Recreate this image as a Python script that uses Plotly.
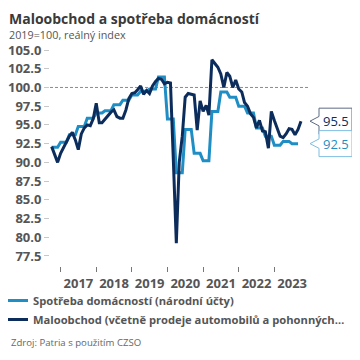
import pandas as pd
import plotly.graph_objects as go

# ---------------- data ----------------
# Household consumption (national accounts), quarterly, Q4 2016 .. Q3 2023
spotreba_start = "2016-10-01"
spotreba_q = [92.0,
              92.7, 93.7, 94.8, 95.9,
              96.6, 96.9, 97.7, 98.3,
              99.0, 99.5, 99.8, 101.4,
              95.8, 88.6, 94.4, 91.2,
              90.2, 96.8, 99.4, 98.7,
              97.5, 96.6, 94.6, 93.5,
              92.3, 92.8, 92.5]

# Retail incl. cars and fuels, monthly, Oct 2016 .. Oct 2023
retail_start = "2016-10-01"
retail_m = [92.1, 91.0, 90.0,
            91.2, 92.0, 92.6, 93.5, 94.0, 93.0, 91.7, 93.8, 94.6, 95.0, 94.9, 95.8,
            97.9, 95.3, 95.3, 95.8, 96.3, 96.7, 97.0, 96.1, 95.9, 95.9, 97.0, 98.5,
            99.2, 99.3, 99.7, 100.2, 99.1, 99.6, 99.2, 100.2, 100.8, 101.2, 101.1, 100.5,
            100.7, 100.6, 90.5, 79.2, 90.0, 93.5, 98.7, 99.2, 99.1, 99.0, 94.3, 98.2,
            96.8, 97.6, 96.3, 103.7, 103.2, 102.7, 101.8, 100.0, 102.0, 101.5, 100.0, 101.0,
            99.8, 99.4, 98.0, 97.5, 96.5, 96.0, 94.6, 95.6, 94.2, 94.1, 91.9, 96.8,
            95.6, 94.5, 93.5, 93.3, 93.8, 94.5, 94.4, 93.7, 94.4, 95.5]

name_spotreba = "Spotřeba domácností (národní účty)"
name_retail = "Maloobchod (včetně prodeje automobilů a pohonných…"
y_ticks = [77.5, 80.0, 82.5, 85.0, 87.5, 90.0, 92.5, 95.0, 97.5, 100.0, 102.5, 105.0]

# quarterly values shown on a monthly axis (each quarter's value held for its 3 months)
spotreba_vals = [v for v in spotreba_q for _ in range(3)]
spotreba_dates = pd.date_range(spotreba_start, periods=len(spotreba_vals), freq="MS")
retail_dates = pd.date_range(retail_start, periods=len(retail_m), freq="MS")

# ---------------- style ----------------
C_LIGHT = "#1f8ec5"
C_DARK = "#0c2d5c"
FONT = "Open Sans"
W, H = 352, 352
ML, MR, MT, MB = 42, 52, 34, 94
PW, PH = W - ML - MR, H - MT - MB


def px_x(p):
    return (p - ML) / PW


def px_y(p):
    return (H - MB - p) / PH


fig = go.Figure()
fig.add_trace(go.Scatter(x=spotreba_dates, y=spotreba_vals, mode="lines", name=name_spotreba,
                         line=dict(color=C_LIGHT, width=3)))
fig.add_trace(go.Scatter(x=retail_dates, y=retail_m, mode="lines", name=name_retail,
                         line=dict(color=C_DARK, width=3)))

# reference line at 100
fig.add_shape(type="line", xref="paper", x0=0, x1=1, yref="y", y0=100, y1=100,
              line=dict(color="#8a8a8a", width=1, dash="3px,2px"), layer="below")

# end-value callouts
for val, col, border in [(retail_m[-1], C_DARK, "#5d6b84"),
                         (spotreba_vals[-1], C_LIGHT, "#7fbde0")]:
    fig.add_shape(type="path", xref="paper", xsizemode="pixel", xanchor=1,
                  yref="y", ysizemode="pixel", yanchor=val,
                  path="M2,0 L11,4.7 L11,13 L44,13 L44,-13 L11,-13 L11,-4.7 Z",
                  fillcolor="white", line=dict(color=border, width=1), layer="above")
    fig.add_annotation(xref="paper", x=1, xshift=27.5, yref="y", y=val, text=f"{val:.1f}",
                       showarrow=False, xanchor="center", yanchor="middle",
                       font=dict(family=FONT, size=13, color=col))

# title, subtitle, source
fig.add_annotation(xref="paper", yref="paper", x=px_x(0), y=px_y(0), xanchor="left", yanchor="top",
                   text="<b>Maloobchod a spotřeba domácností</b>", showarrow=False, borderpad=0,
                   font=dict(family=FONT, size=14, color="#3a3a3a"))
fig.add_annotation(xref="paper", yref="paper", x=px_x(0), y=px_y(26.5), xanchor="left", yanchor="middle",
                   text="2019=100, reálný index", showarrow=False, borderpad=0,
                   font=dict(family=FONT, size=10.8, color="#555555"))
fig.add_annotation(xref="paper", yref="paper", x=px_x(1), y=px_y(334), xanchor="left", yanchor="middle",
                   text="Zdroj: Patria s použitím CZSO", showarrow=False,
                   font=dict(family=FONT, size=9.6, color="#666666"))

fig.update_xaxes(type="date", range=["2016-09-14", "2023-12-12"], tick0="2017-01-01", dtick="M12",
                 tickformat="%Y", ticklabelmode="period", ticks="outside", ticklen=5,
                 tickcolor="#777777", showgrid=False, zeroline=False, showline=False,
                 tickfont=dict(family=FONT, size=13, color="#555555", weight="bold"))
fig.update_yaxes(range=[76.16, 106.07], tickvals=y_ticks, tickformat=".1f", ticks="outside",
                 ticklen=5, tickcolor="#c8c8c8", showgrid=False, zeroline=False, showline=False,
                 tickfont=dict(family=FONT, size=13, color="#555555", weight="bold"))

fig.update_layout(width=W, height=H, margin=dict(l=ML, r=MR, t=MT, b=MB, autoexpand=False),
                  paper_bgcolor="white", plot_bgcolor="white", showlegend=True,
                  legend=dict(orientation="v", xref="paper", yref="paper",
                              x=px_x(-15), y=px_y(278), xanchor="left", yanchor="top",
                              font=dict(family=FONT, size=11.2, color="#555555", weight="bold"),
                              tracegroupgap=0, bgcolor="rgba(0,0,0,0)"))

fig.write_html("out.html")
